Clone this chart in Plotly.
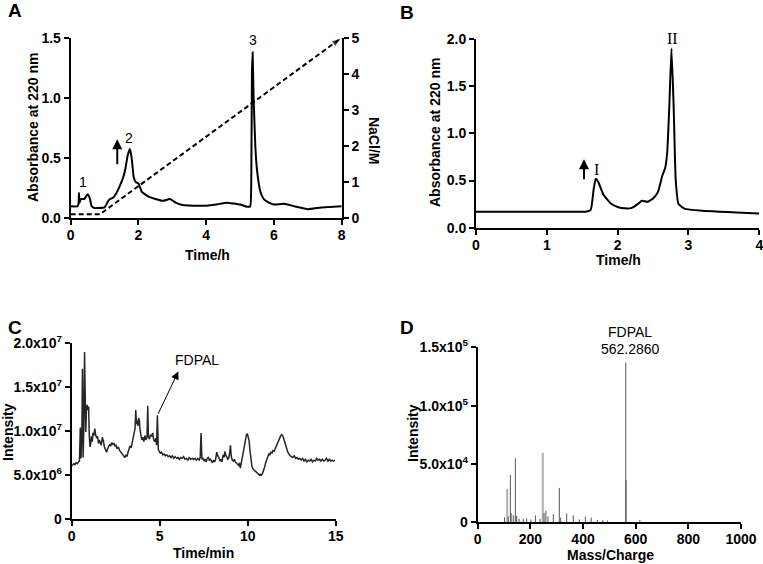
import plotly.graph_objects as go

W, H = 763, 564

# ---------------- Panel A data ----------------
a_time = [0, 0.2, 0.23, 0.245, 0.26, 0.3, 0.4, 0.5, 0.56, 0.62, 0.7, 0.8, 1.0, 1.1, 1.16, 1.25, 1.35,
          1.45, 1.55, 1.62, 1.68, 1.75, 1.8, 1.86, 1.92, 2.0, 2.1, 2.3, 2.5, 2.73, 2.93, 3.1, 3.3, 3.6,
          4.0, 4.3, 4.6, 5.0, 5.2, 5.3, 5.33, 5.35, 5.37, 5.4, 5.45, 5.5, 5.6, 5.7, 5.85, 6.0, 6.3,
          6.6, 7.0, 7.4, 8.0]
a_abs = [0.10, 0.10, 0.12, 0.21, 0.13, 0.16, 0.16, 0.20, 0.17, 0.10, 0.085, 0.085, 0.09, 0.14, 0.16,
         0.17, 0.21, 0.27, 0.34, 0.42, 0.52, 0.575, 0.50, 0.34, 0.30, 0.29, 0.22, 0.18, 0.16, 0.145,
         0.16, 0.13, 0.11, 0.105, 0.105, 0.115, 0.13, 0.115, 0.096, 0.10, 0.30, 1.2, 1.38, 1.0, 0.6,
         0.40, 0.22, 0.16, 0.13, 0.115, 0.12, 0.10, 0.075, 0.09, 0.10]
nacl_time = [0, 0.86, 8]
nacl_conc = [0.11, 0.11, 5]

# ---------------- Panel B data ----------------
b_time = [0, 1.0, 1.55, 1.62, 1.66, 1.69, 1.73, 1.8, 1.9, 2.0, 2.1, 2.2, 2.3, 2.34, 2.42, 2.5,
          2.57, 2.63, 2.67, 2.7, 2.73, 2.76, 2.79, 2.82, 2.86, 2.95, 3.2, 4.0]
b_abs = [0.17, 0.17, 0.17, 0.19, 0.40, 0.52, 0.48, 0.35, 0.26, 0.22, 0.205, 0.21, 0.26, 0.285, 0.275,
         0.31, 0.38, 0.55, 0.63, 0.80, 1.3, 1.90, 1.3, 0.5, 0.25, 0.20, 0.18, 0.15]

# ---------------- Panel C data (TIC, intensity in 1e6) ----------------
c_time = [0.00, 0.06, 0.12, 0.18, 0.25, 0.32, 0.38, 0.44, 0.49, 0.53, 0.58, 0.61, 0.65, 0.69, 0.73,
          0.77, 0.80, 0.84, 0.88, 0.92, 0.96, 1.00, 1.04, 1.08, 1.12, 1.17, 1.21, 1.26, 1.31, 1.36,
          1.42, 1.47, 1.52, 1.57, 1.62, 1.68, 1.74, 1.80, 1.86, 1.92, 1.98, 2.04, 2.10, 2.16, 2.22,
          2.28, 2.34, 2.40, 2.46, 2.52, 2.58, 2.65, 2.72, 2.80, 2.88, 2.95, 3.02, 3.08, 3.14, 3.20,
          3.26, 3.31, 3.38, 3.44, 3.50, 3.56, 3.60, 3.64, 3.68, 3.72, 3.76, 3.80, 3.84, 3.88, 3.92,
          3.98, 4.04, 4.10, 4.16, 4.22, 4.28, 4.32, 4.36, 4.42, 4.48, 4.55, 4.60, 4.66, 4.72, 4.78,
          4.82, 4.87, 4.92, 4.97, 5.03, 5.10, 5.18, 5.25, 5.32, 5.40, 5.48, 5.56, 5.64, 5.72, 5.80,
          5.88, 5.96, 6.04, 6.12, 6.20, 6.28, 6.36, 6.44, 6.52, 6.60, 6.68, 6.76, 6.84, 6.92, 7.00,
          7.08, 7.16, 7.24, 7.30, 7.35, 7.40, 7.46, 7.52, 7.58, 7.64, 7.70, 7.76, 7.82, 7.88, 7.94,
          8.00, 8.06, 8.12, 8.18, 8.24, 8.30, 8.36, 8.42, 8.48, 8.54, 8.60, 8.66, 8.71, 8.76, 8.81,
          8.86, 8.92, 8.97, 9.02, 9.06, 9.12, 9.18, 9.24, 9.30, 9.36, 9.42, 9.48, 9.53, 9.58, 9.63,
          9.68, 9.73, 9.78, 9.83, 9.88, 9.93, 9.98, 10.03, 10.08, 10.13, 10.18, 10.24, 10.30, 10.36,
          10.42, 10.48, 10.54, 10.60, 10.66, 10.72, 10.78, 10.84, 10.90, 10.96, 11.02, 11.08, 11.14,
          11.20, 11.26, 11.32, 11.38, 11.44, 11.50, 11.56, 11.62, 11.68, 11.74, 11.80, 11.86, 11.92,
          11.98, 12.04, 12.10, 12.16, 12.22, 12.28, 12.34, 12.40, 12.48, 12.56, 12.64, 12.72, 12.80,
          12.88, 12.96, 13.04, 13.12, 13.20, 13.28, 13.36, 13.44, 13.52, 13.60, 13.68, 13.76, 13.84,
          13.92, 14.00, 14.08, 14.16, 14.24, 14.32, 14.40, 14.48, 14.56, 14.64, 14.72, 14.80, 14.88,
          14.96]
c_int_e6 = [6.1, 6.15, 6.3, 6.2, 6.4, 6.3, 6.45, 6.6, 10.4, 6.9, 10.0, 17.1, 7.0, 10.5, 19.0,
            12.0, 9.9, 12.6, 13.0, 12.4, 12.8, 9.5, 8.2, 8.6, 9.4, 8.8, 9.8, 9.5, 10.3, 9.6,
            9.2, 9.4, 8.6, 9.0, 8.8, 8.4, 9.3, 8.9, 8.2, 7.8, 7.6, 8.0, 8.2, 8.5, 8.3,
            8.7, 8.5, 8.6, 8.3, 8.4, 8.0, 8.2, 7.8, 7.6, 7.4, 7.2, 7.0, 7.3, 7.1, 7.6,
            7.9, 8.3, 8.1, 8.6, 9.1, 9.6, 10.3, 12.4, 10.8, 11.2, 10.6, 11.5, 11.3, 10.2, 9.4,
            9.0, 9.3, 8.8, 9.5, 9.0, 9.4, 12.9, 9.3, 9.1, 9.6, 9.4, 9.8, 9.0, 8.8, 9.2,
            8.4, 11.8, 7.9, 7.6, 7.5, 7.6, 7.3, 7.4, 7.2, 7.3, 7.1, 7.2, 7.0, 7.2, 6.9,
            7.1, 6.9, 7.0, 6.8, 7.0, 6.9, 7.1, 6.8, 6.9, 6.7, 7.0, 6.8, 6.9, 6.8, 6.9,
            6.7, 6.9, 6.7, 7.0, 9.8, 6.8, 6.9, 6.6, 6.8, 6.5, 6.9, 7.0, 6.7, 6.8, 6.6,
            6.4, 6.7, 6.5, 6.8, 7.6, 7.2, 7.0, 6.6, 6.8, 6.5, 7.3, 7.0, 7.7, 7.2, 7.1,
            6.8, 6.9, 7.4, 8.4, 7.2, 6.7, 6.6, 6.8, 6.5, 6.4, 6.3, 6.1, 6.4, 5.8, 6.3,
            6.9, 7.4, 7.9, 8.6, 9.2, 9.6, 9.7, 9.3, 8.9, 7.8, 6.8, 6.0, 5.7, 5.6,
            5.4, 5.3, 5.3, 5.1, 5.0, 5.1, 5.0, 5.2, 5.5, 5.9, 6.4, 6.8, 7.2,
            7.4, 7.3, 7.6, 7.5, 7.8, 7.7, 8.0, 8.3, 8.7, 9.0, 9.2, 9.4, 9.6,
            9.5, 9.2, 8.8, 8.4, 7.9, 7.6, 7.4, 7.2, 7.1, 7.0, 7.2, 6.9, 7.0,
            6.8, 6.9, 6.7, 6.9, 6.6, 6.8, 6.5, 6.7, 6.6, 6.8, 6.5, 6.7, 6.6,
            6.9, 6.7, 6.8, 6.6, 6.8, 6.6, 6.7, 6.9, 6.6, 6.8, 6.6, 6.7, 6.6,
            6.7]

# ---------------- Panel D data (MS spectrum, intensity in 1e4) ----------------
d_mz = [102, 112, 116, 124, 127, 135, 143, 148, 157, 173, 186, 202, 219, 237, 247, 252, 259, 267,
        287, 310, 315, 338, 363, 386, 409, 431, 454, 475, 492, 562.3, 563.3, 616]
d_int_e4 = [0.43, 2.83, 0.5, 4.06, 0.8, 0.6, 5.49, 0.55, 0.3, 0.3, 0.35, 0.25, 0.6, 0.3, 5.97, 0.8,
            1.0, 0.5, 0.7, 2.95, 0.4, 0.75, 0.6, 0.25, 0.5, 0.4, 0.2, 0.2, 0.15, 13.7, 3.6, 0.2]
d_light = [112, 247]  # sticks drawn in light grey

FONT = "Liberation Sans, Arial, sans-serif"


def px(x):
    return x / W


def py(y):
    return 1 - y / H


fig = go.Figure()

# Panel A
fig.add_trace(go.Scatter(x=a_time, y=a_abs, mode="lines", line=dict(color="black", width=2, shape="spline", smoothing=0.4),
                         xaxis="x", yaxis="y", showlegend=False))
fig.add_trace(go.Scatter(x=nacl_time, y=nacl_conc, mode="lines+markers",
                         line=dict(color="black", width=2, dash="5px,3px"),
                         marker=dict(symbol="arrow", angleref="previous", size=[0, 0, 11], color="black"),
                         xaxis="x", yaxis="y5", showlegend=False, cliponaxis=False))
# Panel B
fig.add_trace(go.Scatter(x=b_time, y=b_abs, mode="lines", line=dict(color="black", width=2, shape="spline", smoothing=0.4),
                         xaxis="x2", yaxis="y2", showlegend=False))
# Panel C
fig.add_trace(go.Scatter(x=c_time, y=[v * 1e6 for v in c_int_e6], mode="lines",
                         line=dict(color="#262626", width=1.5),
                         xaxis="x3", yaxis="y3", showlegend=False))
# Panel D sticks
for mz, it in zip(d_mz, d_int_e4):
    light = mz in d_light
    fig.add_trace(go.Scatter(x=[mz, mz], y=[0, it * 1e4], mode="lines",
                             line=dict(color="#b0b0b0" if light else "#555555", width=2 if light else 1),
                             xaxis="x4", yaxis="y4", showlegend=False))

tickfont = dict(family=FONT, size=14, color="black", weight="bold")
axcommon = dict(showline=True, linewidth=2, linecolor="black", ticks="outside", ticklen=5,
                tickwidth=2, tickcolor="black", showgrid=False, zeroline=False, tickfont=tickfont,
                fixedrange=True, automargin=False, ticklabeloverflow="allow")
xcommon = dict(axcommon, ticklabelstandoff=-2)

fig.update_layout(
    template="none",
    width=W, height=H, autosize=False,
    margin=dict(l=0, r=0, t=0, b=0, pad=0),
    paper_bgcolor="white", plot_bgcolor="white",
    xaxis=dict(domain=[px(70.7), px(341.7)], range=[0, 8], tickvals=[0, 2, 4, 6, 8], anchor="y", **xcommon),
    yaxis=dict(domain=[py(218.3), py(37.7)], range=[0, 1.5], tickvals=[0, 0.5, 1.0, 1.5],
               ticktext=["0.0", "0.5", "1.0", "1.5"], anchor="x", **axcommon),
    yaxis5=dict(overlaying="y", side="right", range=[0, 5], tickvals=[0, 1, 2, 3, 4, 5], anchor="x", **axcommon),
    xaxis2=dict(domain=[px(476), px(759.3)], range=[0, 4], tickvals=[0, 1, 2, 3, 4], anchor="y2", **xcommon),
    yaxis2=dict(domain=[py(227.7), py(39)], range=[0, 2], tickvals=[0, 0.5, 1.0, 1.5, 2.0],
                ticktext=["0.0", "0.5", "1.0", "1.5", "2.0"], anchor="x2", **axcommon),
    xaxis3=dict(domain=[px(71.7), px(335.7)], range=[0, 15], tickvals=[0, 5, 10, 15], anchor="y3", **xcommon),
    yaxis3=dict(domain=[py(519), py(343.3)], range=[0, 2e7], tickvals=[0, 5e6, 1e7, 1.5e7, 2e7],
                ticktext=["0", "5.0x10<sup>6</sup>", "1.0x10<sup>7</sup>", "1.5x10<sup>7</sup>", "2.0x10<sup>7</sup>"],
                anchor="x3", **axcommon),
    xaxis4=dict(domain=[px(477.7), px(741)], range=[0, 1000], tickvals=[0, 200, 400, 600, 800, 1000],
                anchor="y4", **xcommon),
    yaxis4=dict(domain=[py(522.3), py(347.3)], range=[0, 1.5e5], tickvals=[0, 5e4, 1e5, 1.5e5],
                ticktext=["0", "5.0x10<sup>4</sup>", "1.0x10<sup>5</sup>", "1.5x10<sup>5</sup>"],
                anchor="x4", **axcommon),
)

ann = []


def text(x, y, s, size=14, bold=True, angle=0, family=FONT):
    ann.append(dict(x=px(x), y=py(y), xref="paper", yref="paper", text=s, showarrow=False,
                    textangle=angle, xanchor="center", yanchor="middle",
                    font=dict(family=family, size=size, color="black", weight="bold" if bold else "normal")))


# panel letters
text(15, 11, "A", size=19)
text(407, 12, "B", size=19)
text(15, 327, "C", size=19)
text(407, 327, "D", size=19)
# axis titles
text(33, 128, "Absorbance at 220 nm", angle=-90)
text(207, 255, "Time/h")
text(374, 140, "NaCl/M", angle=90)
text(435, 133, "Absorbance at 220 nm", angle=-90)
text(618, 259.5, "Time/h")
text(8, 432, "Intensity", angle=-90)
text(203, 553, "Time/min")
text(413, 433, "Intensity", angle=-90)
text(610, 555, "Mass/Charge")
# peak labels
text(83, 182, "1", size=14, bold=False)
text(129, 138, "2", size=14, bold=False)
text(253, 40, "3", size=14, bold=False)
text(596, 170, "I", size=16, bold=False, family="Liberation Serif, Times New Roman, serif")
text(672, 38, "II", size=16, bold=False, family="Liberation Serif, Times New Roman, serif")
text(197, 360, "FDPAL", size=14, bold=False)
text(630, 332, "FDPAL", size=14, bold=False)
text(630, 349, "562.2860", size=14, bold=False)

# arrows
ann.append(dict(x=1.375, y=0.656, ax=1.375, ay=0.437, xref="x", yref="y", axref="x", ayref="y",
                showarrow=True, arrowhead=2, arrowsize=1, arrowwidth=2, arrowcolor="black", text=""))
ann.append(dict(x=1.525, y=0.725, ax=1.525, ay=0.498, xref="x2", yref="y2", axref="x2", ayref="y2",
                showarrow=True, arrowhead=2, arrowsize=1, arrowwidth=2, arrowcolor="black", text=""))
ann.append(dict(x=6.06, y=16.8e6, ax=4.87, ay=11.8e6, xref="x3", yref="y3", axref="x3", ayref="y3",
                showarrow=True, arrowhead=2, arrowsize=1.6, arrowwidth=1, arrowcolor="black", text=""))

fig.update_layout(annotations=ann)
fig.write_html("out.html", config={"displayModeBar": False},
               post_script="document.body.style.margin='0';document.body.style.overflow='hidden';")
